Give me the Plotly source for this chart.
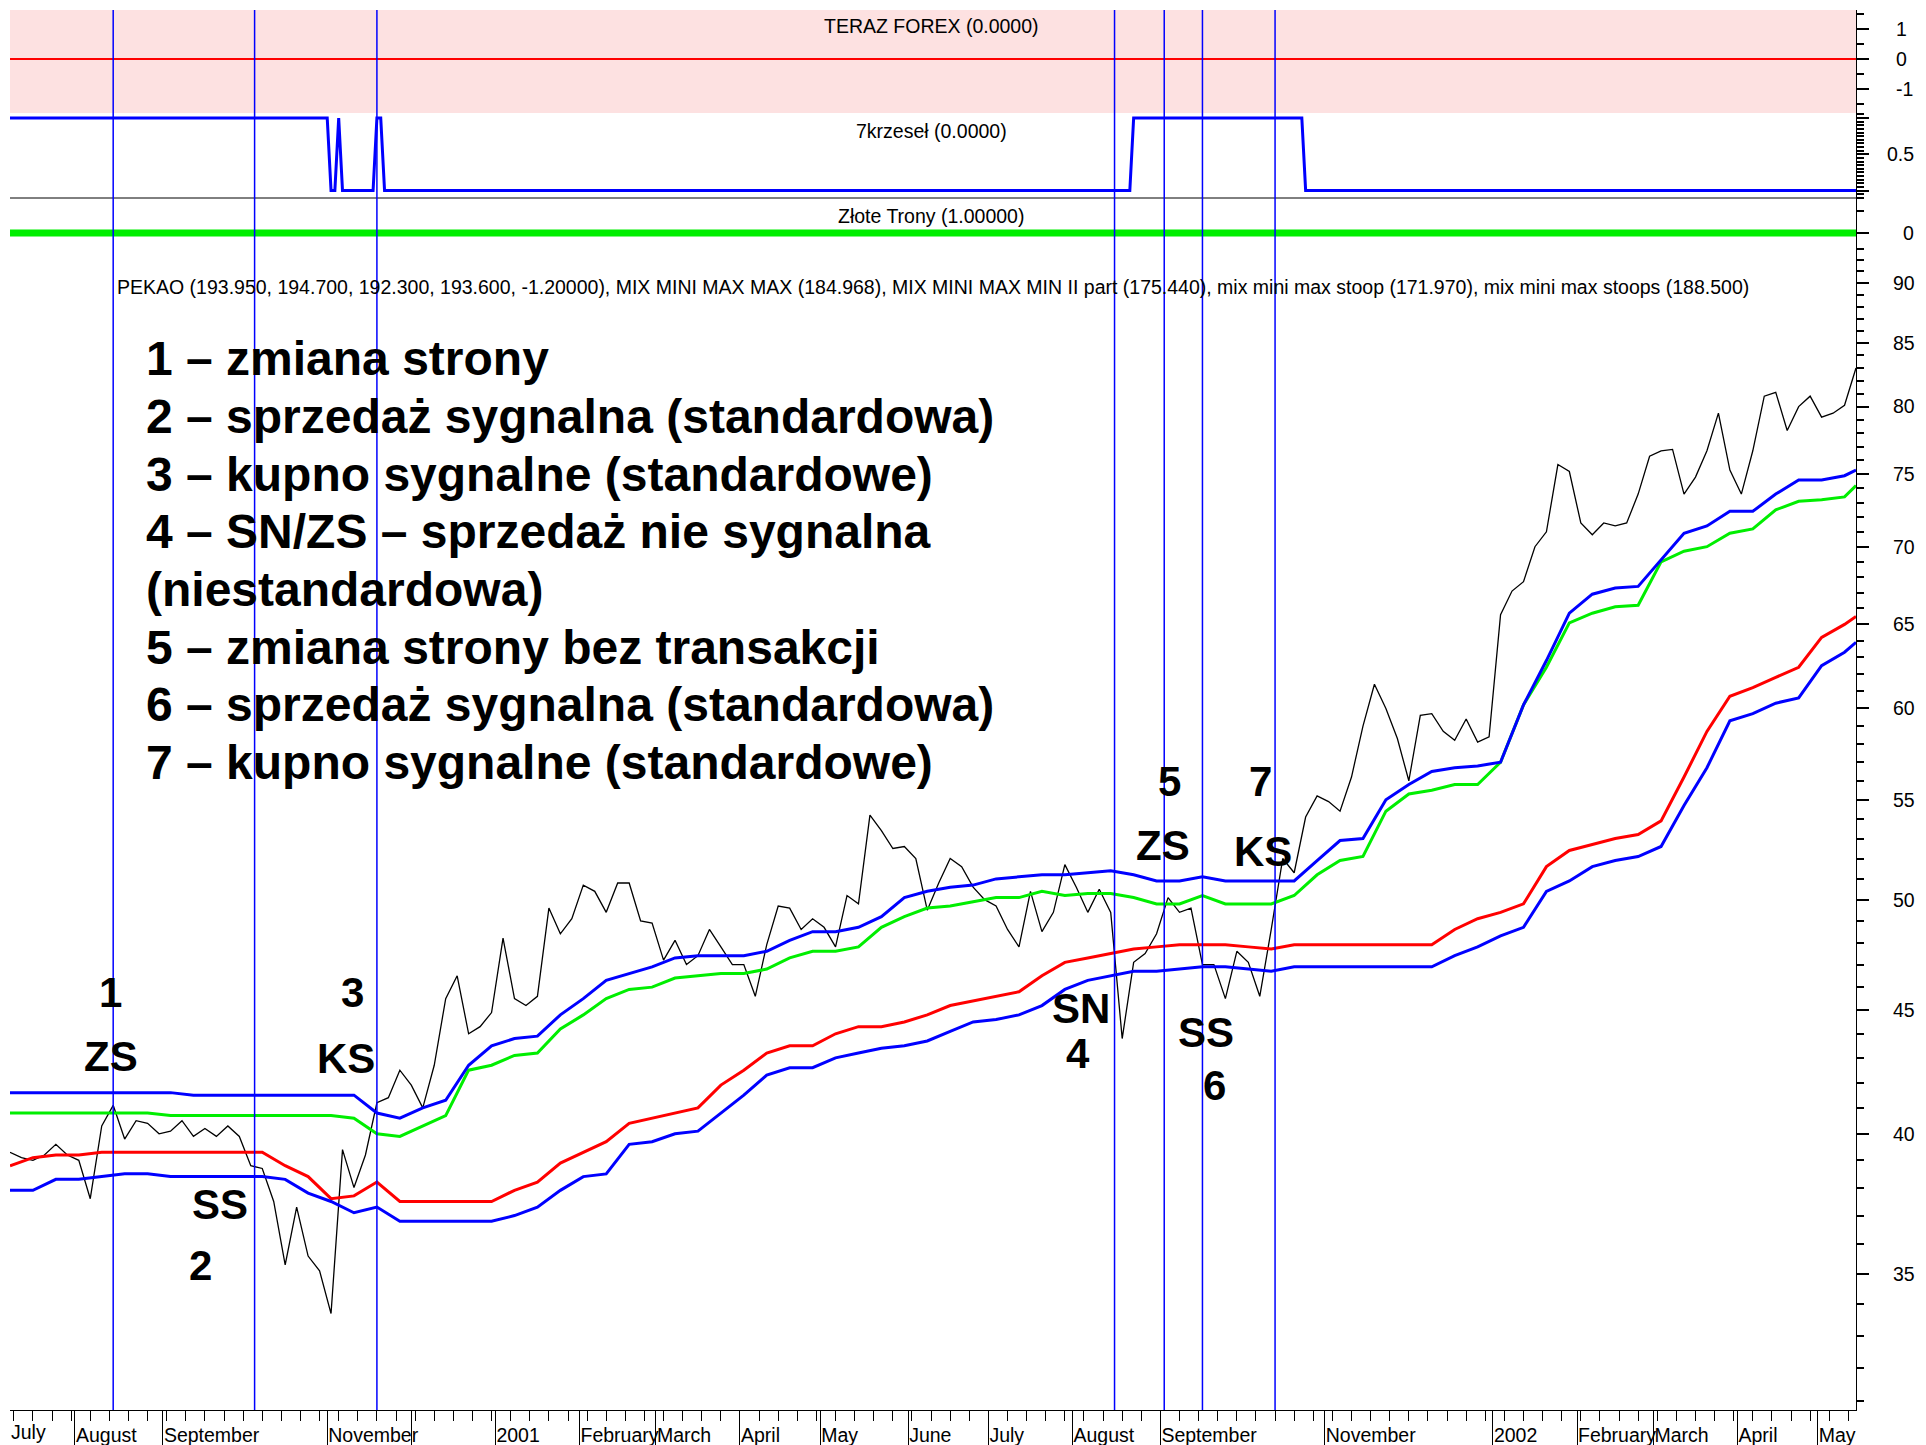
import pandas as pd
import plotly.graph_objects as go

FONT = "Liberation Sans, Arial, sans-serif"
BLUE, RED, GREEN = "#0000ff", "#ff0000", "#00ee00"

# sessions (Mon-Fri) from the first to the last bar on the chart
days = pd.bdate_range("2000-07-07", periods=484)

# PEKAO close, read every 3rd session
pekao_close = [
    39.3, 39.1, 39.0, 39.2, 39.6, 39.2, 39.0, 37.6, 40.3, 41.1,
    39.8, 40.5, 40.4, 40.0, 40.1, 40.5, 39.9, 40.2, 39.9, 40.3,
    39.9, 38.8, 38.7, 37.5, 35.3, 37.3, 35.6, 35.1, 33.7, 39.4,
    38.0, 39.2, 41.2, 41.4, 42.5, 41.9, 41.0, 42.7, 45.5, 46.5,
    44.0, 44.3, 44.9, 48.2, 45.5, 45.2, 45.6, 49.6, 48.4, 49.1,
    50.7, 50.4, 49.4, 50.8, 50.8, 49.0, 48.9, 47.2, 48.1, 47.0,
    47.4, 48.6, 47.8, 47.0, 47.0, 45.6, 47.9, 49.7, 49.6, 48.6,
    49.1, 48.7, 47.8, 50.2, 49.8, 54.2, 53.4, 52.5, 52.6, 52.0,
    49.5, 50.8, 52.0, 51.6, 50.6, 50.0, 49.7, 48.6, 47.8, 50.4,
    48.5, 49.4, 51.7, 50.6, 49.4, 50.5, 49.4, 43.8, 47.1, 47.5,
    48.4, 50.1, 49.4, 49.6, 47.0, 47.0, 45.5, 47.6, 47.1, 45.6,
    48.6, 52.0, 51.3, 54.1, 55.2, 54.9, 54.4, 56.2, 59.0, 61.4,
    60.0, 58.3, 56.0, 59.6, 59.7, 58.7, 58.2, 59.4, 58.1, 58.4,
    65.6, 67.1, 67.7, 70.0, 71.0, 75.7, 75.2, 71.6, 70.8, 71.6,
    71.4, 71.6, 73.6, 76.3, 76.7, 76.8, 73.6, 74.8, 76.7, 79.5,
    75.3, 73.6, 76.7, 80.8, 81.1, 78.2, 80.0, 80.8, 79.2, 79.5,
    80.1, 83.0,
]

# indicator lines, read every 6th session plus the last session
mix_stoops = [  # upper blue
    41.6, 41.6, 41.6, 41.6, 41.6, 41.6, 41.6, 41.6, 41.5, 41.5, 41.5, 41.5, 41.5, 41.5, 41.5, 41.5,
    40.8, 40.6, 41.0, 41.3, 42.7, 43.5, 43.8, 43.9, 44.8, 45.5,
    46.3, 46.6, 46.9, 47.3, 47.4, 47.4, 47.4, 47.6, 48.1, 48.5,
    48.5, 48.7, 49.2, 50.1, 50.4, 50.6, 50.7, 51.0, 51.1, 51.2,
    51.2, 51.3, 51.4, 51.2, 50.9, 50.9, 51.1, 50.9, 50.9, 50.9,
    50.9, 51.9, 52.9, 53.0, 55.0, 55.8, 56.5, 56.7, 56.8, 57.0,
    60.2, 62.8, 65.7, 66.9, 67.3, 67.4, 69.1, 70.9, 71.4, 72.4,
    72.4, 73.6, 74.6, 74.6, 74.9, 75.3,
]
mix_max_max = [  # green
    40.8, 40.8, 40.8, 40.8, 40.8, 40.8, 40.8, 40.7, 40.7, 40.7, 40.7, 40.7, 40.7, 40.7, 40.7, 40.6,
    40.0, 39.9, 40.3, 40.7, 42.5, 42.7, 43.1, 43.2, 44.2, 44.8,
    45.5, 45.9, 46.0, 46.4, 46.5, 46.6, 46.6, 46.8, 47.3, 47.6,
    47.6, 47.8, 48.7, 49.2, 49.6, 49.7, 49.9, 50.1, 50.1, 50.4,
    50.2, 50.3, 50.3, 50.1, 49.8, 49.8, 50.2, 49.8, 49.8, 49.8,
    50.2, 51.2, 51.9, 52.1, 54.4, 55.3, 55.5, 55.8, 55.8, 57.0,
    60.2, 62.4, 65.1, 65.7, 66.1, 66.2, 69.0, 69.7, 70.0, 70.9,
    71.2, 72.5, 73.1, 73.2, 73.4, 74.2,
]
mix_max_min = [  # red
    38.8, 39.1, 39.2, 39.2, 39.3, 39.3, 39.3, 39.3, 39.3, 39.3, 39.3, 39.3,
    38.8, 38.4, 37.6, 37.7, 38.2, 37.5, 37.5, 37.5, 37.5, 37.5,
    37.9, 38.2, 38.9, 39.3, 39.7, 40.4, 40.6, 40.8, 41.0, 41.9,
    42.5, 43.2, 43.5, 43.5, 44.0, 44.3, 44.3, 44.5, 44.8, 45.2,
    45.4, 45.6, 45.8, 46.5, 47.1, 47.3, 47.5, 47.7, 47.8, 47.9,
    47.9, 47.9, 47.8, 47.7, 47.9, 47.9, 47.9, 47.9, 47.9, 47.9,
    47.9, 48.6, 49.1, 49.4, 49.8, 51.6, 52.4, 52.7, 53.0, 53.2,
    53.9, 56.2, 58.7, 60.7, 61.2, 61.8, 62.4, 64.2, 65.0, 65.5,
]
mix_stoop = [  # lower blue
    37.9, 37.9, 38.3, 38.3, 38.4, 38.5, 38.5, 38.4, 38.4, 38.4, 38.4, 38.4,
    38.3, 37.8, 37.5, 37.1, 37.3, 36.8, 36.8, 36.8, 36.8, 36.8,
    37.0, 37.3, 37.9, 38.4, 38.5, 39.6, 39.7, 40.0, 40.1, 40.8,
    41.5, 42.3, 42.6, 42.6, 43.0, 43.2, 43.4, 43.5, 43.7, 44.1,
    44.5, 44.6, 44.8, 45.2, 45.9, 46.3, 46.5, 46.7, 46.7, 46.8,
    46.9, 46.9, 46.8, 46.7, 46.9, 46.9, 46.9, 46.9, 46.9, 46.9,
    46.9, 47.4, 47.8, 48.3, 48.7, 50.4, 50.9, 51.6, 51.9, 52.1,
    52.6, 54.7, 56.7, 59.3, 59.7, 60.3, 60.6, 62.5, 63.3, 63.9,
]

# 7krzeseł signal (0/1) at its change points
krzesla_dates = ["2000-07-07", "2000-11-01", "2000-11-02", "2000-11-03", "2000-11-06",
                 "2000-11-07", "2000-11-17", "2000-11-20", "2000-11-21", "2000-11-22",
                 "2001-08-22", "2001-08-23", "2001-10-24", "2001-10-25", "2002-05-15"]
krzesla_vals = [1, 1, 0, 0, 1, 0, 0, 1, 1, 0, 0, 1, 1, 0, 0]

# transaction markers
signal_dates = ["2000-08-15", "2000-10-05", "2000-11-20", "2001-08-16",
                "2001-09-04", "2001-09-18", "2001-10-15"]

month_ticks = ["2000-08-01", "2000-09-01", "2000-10-02", "2000-11-01", "2000-12-01",
               "2001-01-02", "2001-02-01", "2001-03-01", "2001-04-02", "2001-05-01",
               "2001-06-01", "2001-07-02", "2001-08-01", "2001-09-03", "2001-10-01",
               "2001-11-01", "2001-12-03", "2002-01-02", "2002-02-01", "2002-03-01",
               "2002-04-02", "2002-05-01"]
month_labels = ["August", "September", "", "November", "", "2001", "February", "March",
                "April", "May", "June", "July", "August", "September", "", "November", "",
                "2002", "February", "March", "April", "May"]

price_ticks = [35, 40, 45, 50, 55, 60, 65, 70, 75, 80, 85, 90]

legend_lines = [
    "1 – zmiana strony",
    "2 – sprzedaż sygnalna (standardowa)",
    "3 – kupno sygnalne (standardowe)",
    "4 – SN/ZS – sprzedaż nie sygnalna",
    "(niestandardowa)",
    "5 – zmiana strony bez transakcji",
    "6 – sprzedaż sygnalna (standardowa)",
    "7 – kupno sygnalne (standardowe)",
]
pekao_title = ("PEKAO (193.950, 194.700, 192.300, 193.600, -1.20000), MIX MINI MAX MAX (184.968), "
               "MIX MINI MAX MIN II part (175.440), mix mini max stoop (171.970), "
               "mix mini max stoops (188.500)")

# ---- layout: the page body adds 8px, so margins are set 8px smaller
OFF = 8
L, R, T, B = 2, 78, 2, 43
W, H = 1926, 1445
PW, PH = W - L - R, H - T - B
TXT = 19.5


def px(xs):
    # screen x of the picture -> paper x
    return (xs - OFF - L) / PW


def py(ys):
    # screen y of the picture -> paper y
    return (H - B - (ys - OFF)) / PH


price_x = days[::3]
band_x = days[::6].append(days[[-1]])

fig = go.Figure()

# top panels
fig.add_trace(go.Scatter(x=[days[0], days[-1]], y=[0, 0], yaxis="y4", mode="lines",
                         line=dict(color=RED, width=2)))
fig.add_trace(go.Scatter(x=pd.to_datetime(krzesla_dates), y=krzesla_vals, yaxis="y3",
                         mode="lines", line=dict(color=BLUE, width=3)))
fig.add_trace(go.Scatter(x=[days[0], days[-1]], y=[0, 0], yaxis="y2", mode="lines",
                         line=dict(color=GREEN, width=7)))

# main panel
fig.add_trace(go.Scatter(x=price_x, y=pekao_close, mode="lines",
                         line=dict(color="black", width=1.3)))
for vals, col in [(mix_max_min, RED), (mix_stoop, BLUE), (mix_max_max, GREEN), (mix_stoops, BLUE)]:
    fig.add_trace(go.Scatter(x=band_x, y=vals, mode="lines", line=dict(color=col, width=3)))

axis_common = dict(side="right", anchor="x", showline=True, linecolor="black", linewidth=1,
                   ticks="outside", ticklen=12, tickwidth=1.5, tickcolor="black",
                   showgrid=False, zeroline=False, tickfont=dict(size=TXT, color="black"),
                   tickmode="array", automargin=False)

minor_week = pd.date_range("2000-07-10", "2002-05-13", freq="W-MON")

fig.update_layout(
    width=W, height=H,
    margin=dict(l=L, r=R, t=T, b=B),
    paper_bgcolor="white", plot_bgcolor="white",
    showlegend=False,
    font=dict(family=FONT, color="black"),
    xaxis=dict(
        domain=[0, 1], anchor="y", type="date", automargin=False,
        range=[days[0], days[-1]],
        rangebreaks=[dict(bounds=["sat", "mon"])],
        tickmode="array", tickvals=pd.to_datetime(month_ticks), ticktext=month_labels,
        ticks="outside", ticklen=34, tickcolor="black", tickwidth=1,
        ticklabelposition="outside right", ticklabelstandoff=8, tickangle=0,
        tickfont=dict(size=TXT, color="black"),
        minor=dict(tickmode="array", tickvals=minor_week, ticks="outside", ticklen=10,
                   tickcolor="black", tickwidth=1),
        showline=True, linecolor="black", linewidth=1, showgrid=False, zeroline=False,
    ),
    yaxis=dict(
        domain=[0, py(242)], type="log", range=[1.48771, 1.97123],
        tickvals=price_ticks, ticktext=[str(v) for v in price_ticks],
        ticklabelstandoff=20,
        minor=dict(tickmode="array",
                   tickvals=[v for v in range(31, 94) if v not in price_ticks],
                   ticks="outside", ticklen=7, tickcolor="black", tickwidth=1.5),
        **axis_common,
    ),
    yaxis2=dict(
        domain=[py(242), py(198)], range=[-0.2045, 0.7955],
        tickvals=[0], ticktext=["0"], ticklabelstandoff=30,
        minor=dict(tickmode="array", tickvals=[0.5], ticks="outside", ticklen=7,
                   tickcolor="black", tickwidth=1.5),
        **axis_common,
    ),
    yaxis3=dict(
        domain=[py(198), py(113)], range=[-0.1034, 1.069],
        tickvals=[0, 0.5, 1], ticktext=["", "0.5", ""], ticklabelstandoff=14,
        minor=dict(tickmode="array",
                   tickvals=[round(i * 0.05, 2) for i in range(-2, 22) if i % 10],
                   ticks="outside", ticklen=7, tickcolor="black", tickwidth=1.5),
        **axis_common,
    ),
    yaxis4=dict(
        domain=[py(113), 1], range=[-1.8, 1.633],
        tickvals=[-1, 0, 1], ticktext=["-1", "0", "1"], ticklabelstandoff=23,
        minor=dict(tickmode="array", tickvals=[-1.5, -0.5, 0.5, 1.5], ticks="outside",
                   ticklen=7, tickcolor="black", tickwidth=1.5),
        **axis_common,
    ),
)

shapes = [
    dict(type="rect", xref="paper", yref="paper", x0=0, x1=1, y0=py(113), y1=1,
         fillcolor="#fde1e1", line=dict(width=0), layer="below"),
    dict(type="line", xref="paper", yref="paper", x0=0, x1=1, y0=py(198), y1=py(198),
         line=dict(color="black", width=1)),
]
for d in signal_dates:
    shapes.append(dict(type="line", xref="x", yref="paper", x0=d, x1=d, y0=0, y1=1,
                       line=dict(color=BLUE, width=1.5)))
fig.update_layout(shapes=shapes)

ann = []
# panel titles
for text, yp in [("TERAZ FOREX (0.0000)", 26), ("7krzeseł (0.0000)", 131),
                 ("Złote Trony (1.00000)", 216)]:
    ann.append(dict(text=text, x=px(931), y=py(yp), xanchor="center", yanchor="middle",
                    font=dict(size=TXT)))
ann.append(dict(text=pekao_title, x=px(115), y=py(287), xanchor="left", yanchor="middle",
                font=dict(size=TXT)))

# explanation block
for i, line in enumerate(legend_lines):
    ann.append(dict(text=f"<b>{line}</b>", x=px(144), y=py(358.7 + i * 57.7),
                    xanchor="left", yanchor="middle", font=dict(size=48)))

# signal labels on the chart
signal_labels = [
    ("1", 110.5, 992), ("ZS", 110.5, 1056), ("3", 352.5, 992), ("KS", 346, 1058),
    ("SS", 220, 1204), ("2", 200, 1265), ("SN", 1081, 1008), ("4", 1078, 1053),
    ("5", 1169, 781), ("ZS", 1163, 845), ("7", 1260, 781), ("KS", 1263, 851),
    ("SS", 1206, 1032), ("6", 1214, 1085),
]
for text, xp, yp in signal_labels:
    ann.append(dict(text=f"<b>{text}</b>", x=px(xp), y=py(yp), xanchor="center",
                    yanchor="middle", font=dict(size=42)))

# first month name at the left edge
ann.append(dict(text="July", x=px(9), y=py(1432), xanchor="left", yanchor="middle",
                font=dict(size=TXT)))

for a in ann:
    a.update(xref="paper", yref="paper", showarrow=False)
fig.update_layout(annotations=ann)

fig.write_html("out.html")
